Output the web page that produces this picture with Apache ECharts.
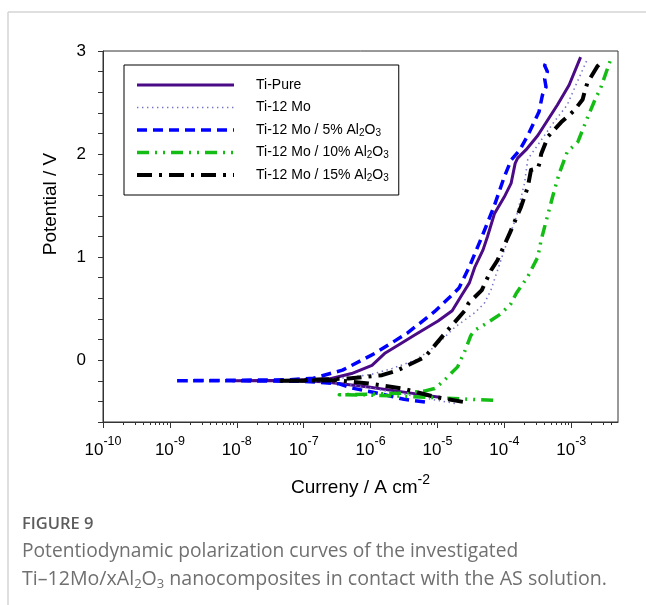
<!DOCTYPE html>
<html>
<head>
<meta charset="utf-8">
<script src="https://cdn.jsdelivr.net/npm/echarts@6/dist/echarts.min.js"></script>
<style>
html,body{margin:0;padding:0;background:#fff;}
#c{width:646px;height:605px;}
</style>
</head>
<body>
<div id="c"></div>
<script>
// ---------- data (current in A cm^-2, potential in V) ----------
const seriesNames = ['Ti-Pure', 'Ti-12 Mo', 'Ti-12 Mo / 5% Al2O3', 'Ti-12 Mo / 10% Al2O3', 'Ti-12 Mo / 15% Al2O3'];

const tiPureCurrent = [1.07e-5, 3.16e-6, 9.3e-7, 2.0e-7, 6.3e-8, 8.7e-9, 6.3e-8, 2.5e-7, 5.2e-7, 1.05e-6, 1.66e-6, 2.8e-6, 4.7e-6, 1.02e-5, 1.66e-5, 2.3e-5, 3.0e-5, 3.6e-5, 4.8e-5, 5.6e-5, 7.1e-5, 1.0e-4, 1.26e-4, 1.45e-4, 1.58e-4, 2.1e-4, 3.16e-4, 6.2e-4, 9.3e-4, 1.38e-3];
const tiPurePotential = [-0.36, -0.31, -0.26, -0.21, -0.2, -0.2, -0.195, -0.18, -0.13, -0.05, 0.07, 0.16, 0.25, 0.38, 0.48, 0.63, 0.75, 0.9, 1.07, 1.2, 1.42, 1.585, 1.715, 1.91, 1.96, 2.04, 2.18, 2.476, 2.67, 2.94];

const ti12MoCurrent = [1.82e-5, 1.0e-5, 3.16e-6, 1.0e-6, 3.16e-7, 1.0e-7, 4.0e-8, 1.0e-7, 3.16e-7, 1.0e-6, 2.1e-6, 4.7e-6, 9.1e-6, 1.82e-5, 3.6e-5, 5.0e-5, 6.3e-5, 1.0e-4, 1.51e-4, 2.0e-4, 2.24e-4, 5.5e-4, 8.7e-4, 1.23e-3, 1.74e-3];
const ti12MoPotential = [-0.42, -0.39, -0.33, -0.27, -0.22, -0.2, -0.2, -0.195, -0.18, -0.14, -0.08, 0.0, 0.13, 0.32, 0.46, 0.55, 0.68, 1.07, 1.39, 1.715, 1.95, 2.31, 2.476, 2.7, 2.92];

const al5Current = [6.5e-6, 3.16e-6, 1.48e-6, 5.2e-7, 3.4e-7, 1.0e-7, 1.0e-8, 1.17e-9, 1.0e-8, 6.3e-8, 1.4e-7, 3.8e-7, 1.15e-6, 3.5e-6, 9.0e-6, 1.55e-5, 2.1e-5, 3.0e-5, 4.4e-5, 7.0e-5, 1.0e-4, 1.26e-4, 1.7e-4, 2.24e-4, 3.3e-4, 3.7e-4, 4.2e-4, 4.0e-4, 4.4e-4, 4.0e-4, 4.3e-4];
const al5Potential = [-0.405, -0.38, -0.33, -0.27, -0.23, -0.205, -0.2, -0.2, -0.195, -0.19, -0.175, -0.097, 0.065, 0.26, 0.47, 0.615, 0.7, 0.906, 1.165, 1.49, 1.78, 1.94, 2.04, 2.18, 2.41, 2.57, 2.65, 2.73, 2.8, 2.86, 2.9];

const al10Current = [6.8e-5, 3.16e-5, 1.0e-5, 3.16e-6, 1.0e-6, 3.4e-7, 1.0e-6, 3.16e-6, 6.3e-6, 9.1e-6, 1.29e-5, 2.0e-5, 2.6e-5, 3.16e-5, 3.6e-5, 5.8e-5, 8.9e-5, 1.26e-4, 1.51e-4, 2.24e-4, 3.16e-4, 3.55e-4, 4.5e-4, 5.6e-4, 6.6e-4, 8.7e-4, 1.26e-3, 1.74e-3, 2.24e-3, 2.75e-3, 3.9e-3];
const al10Potential = [-0.39, -0.38, -0.365, -0.35, -0.34, -0.335, -0.33, -0.32, -0.3, -0.275, -0.19, -0.065, 0.097, 0.24, 0.29, 0.37, 0.45, 0.55, 0.65, 0.81, 1.0, 1.165, 1.42, 1.65, 1.81, 2.02, 2.12, 2.35, 2.52, 2.64, 2.92];

const al15Current = [2.4e-5, 9.1e-6, 3.0e-6, 9.3e-7, 3.0e-7, 1.0e-7, 4.1e-8, 1.0e-7, 2.5e-7, 4.7e-7, 1.48e-6, 2.5e-6, 6.5e-6, 1.29e-5, 2.6e-5, 2.9e-5, 4.6e-5, 6.3e-5, 7.9e-5, 1.2e-4, 1.78e-4, 2.24e-4, 2.5e-4, 3.16e-4, 3.4e-4, 3.55e-4, 4.5e-4, 7.1e-4, 1.1e-3, 1.48e-3, 1.58e-3, 1.74e-3, 2.45e-3, 2.9e-3];
const al15Potential = [-0.405, -0.356, -0.275, -0.226, -0.194, -0.2, -0.2, -0.195, -0.185, -0.178, -0.146, -0.1, 0.03, 0.26, 0.485, 0.55, 0.68, 0.87, 0.97, 1.23, 1.49, 1.68, 1.845, 1.86, 1.92, 2.0, 2.17, 2.31, 2.42, 2.53, 2.6, 2.69, 2.85, 2.9];

// axis ticks
const xMajorTicks = [1e-10, 1e-9, 1e-8, 1e-7, 1e-6, 1e-5, 1e-4, 1e-3];
const xMin = 1e-10, xMax = 5e-3;
const yLabelValues = [0, 1, 2, 3];
const yTickValues = [-0.6, -0.4, -0.2, 0, 0.2, 0.4, 0.6, 0.8, 1, 1.2, 1.4, 1.6, 1.8, 2, 2.2, 2.4, 2.6, 2.8, 3];
const yMin = -0.6, yMax = 3;

// ---------- build ----------
const xMinorTicks = [];
for (let d = -10; d <= -3; d++) {
  for (let m = 2; m <= 9; m++) {
    const v = m * Math.pow(10, d);
    if (v < xMax) xMinorTicks.push(v);
  }
}
function pairs(I, E) { return I.map((v, i) => [v, E[i]]); }

const FONT = 'Liberation Sans, Arial, sans-serif';
const CAP = 'Open Sans, sans-serif';
const styles = [
  { color: '#4b0a86', width: 3, type: 'solid' },
  { color: '#7474c8', width: 1.6, type: [1.4, 3.6] },
  { color: '#0000ff', width: 3.5, type: [10, 6] },
  { color: '#14bd14', width: 3.5, type: [12, 6, 2, 6, 2, 6] },
  { color: '#000000', width: 4, type: [15, 7, 3, 7] }
];
const dataSets = [
  pairs(tiPureCurrent, tiPurePotential),
  pairs(ti12MoCurrent, ti12MoPotential),
  pairs(al5Current, al5Potential),
  pairs(al10Current, al10Potential),
  pairs(al15Current, al15Potential)
];

const chart = echarts.init(document.getElementById('c'), null, { renderer: 'canvas' });
const sub = (s) => s.replace('Al2O3', 'Al{sub|2}O{sub|3}');

chart.setOption({
  animation: false,
  backgroundColor: '#fff',
  grid: { left: 103, right: 28, top: 51, bottom: 183, show: true, borderColor: '#333', borderWidth: 1, backgroundColor: 'transparent' },
  legend: {
    orient: 'vertical', left: 124, top: 65,
    padding: [12, 10, 12, 11],
    itemWidth: 97, itemHeight: 14, itemGap: 6.5,
    borderColor: '#000', borderWidth: 1,
    itemStyle: { opacity: 0 },
    data: seriesNames.map((n, i) => ({
      name: n,
      itemStyle: { opacity: 0 },
      lineStyle: { color: styles[i].color, width: styles[i].width, type: styles[i].type }
    })),
    formatter: (n) => sub(n),
    textStyle: {
      fontFamily: FONT, fontSize: 14, color: '#000', padding: [0, 0, 0, 17], lineHeight: 16,
      rich: { sub: { fontFamily: FONT, fontSize: 10, verticalAlign: 'bottom', lineHeight: 7 } }
    }
  },
  xAxis: [{
    type: 'log', logBase: 10, min: xMin, max: xMax,
    name: 'Curreny / A cm{sup|-2}', nameLocation: 'middle', nameGap: 51,
    nameTextStyle: {
      fontFamily: FONT, fontSize: 19, color: '#000', lineHeight: 30,
      rich: { sup: { fontFamily: FONT, fontSize: 14, lineHeight: 14, verticalAlign: 'top' } }
    },
    axisLine: { show: true, onZero: false, lineStyle: { color: '#333', width: 1 } },
    axisTick: { show: true, length: 6, customValues: xMajorTicks, lineStyle: { color: '#333' } },
    axisLabel: {
      customValues: xMajorTicks, margin: 13, color: '#000',
      formatter: (v) => '{b|10}{sup|' + Math.round(Math.log10(v)) + '}',
      rich: {
        b: { fontFamily: FONT, fontSize: 17, lineHeight: 30, color: '#000' },
        sup: { fontFamily: FONT, fontSize: 12.5, lineHeight: 14, verticalAlign: 'top', color: '#000' }
      }
    },
    splitLine: { show: false }
  }, {
    type: 'log', logBase: 10, min: xMin, max: xMax, position: 'bottom', offset: 0,
    axisLine: { show: false, onZero: false },
    axisTick: { show: true, length: 3, customValues: xMinorTicks, lineStyle: { color: '#333' } },
    axisLabel: { show: false },
    splitLine: { show: false }
  }],
  yAxis: {
    type: 'value', min: yMin, max: yMax,
    name: 'Potential / V', nameLocation: 'middle', nameGap: 43,
    nameTextStyle: { fontFamily: FONT, fontSize: 19, color: '#000', padding: [0, 0, 0, 65] },
    axisLine: { show: true, onZero: false, lineStyle: { color: '#333', width: 1 } },
    axisTick: { show: true, length: 5, customValues: yTickValues, lineStyle: { color: '#333' } },
    axisLabel: { customValues: yLabelValues, margin: 17, fontFamily: FONT, fontSize: 17, color: '#000' },
    splitLine: { show: false }
  },
  series: dataSets.map((d, i) => ({
    name: seriesNames[i], type: 'line', data: d, xAxisIndex: 0,
    symbol: 'none', smooth: false,
    lineStyle: { color: styles[i].color, width: styles[i].width, type: styles[i].type, cap: 'butt', join: 'round' },
    itemStyle: { color: styles[i].color }
  })),
  graphic: [
    { type: 'line', shape: { x1: 8, y1: 12, x2: 646, y2: 12 }, style: { stroke: '#d4d4d4', lineWidth: 1.5 } },
    { type: 'line', shape: { x1: 8, y1: 12, x2: 8, y2: 605 }, style: { stroke: '#d4d4d4', lineWidth: 1.5 } },
    { type: 'text', left: 22, top: 516, style: { text: 'FIGURE 9', fontFamily: CAP, fontSize: 16.5, fontWeight: 600, fill: '#5c5c5c' } },
    { type: 'text', left: 22, top: 542, style: { text: 'Potentiodynamic polarization curves of the investigated', fontFamily: CAP, fontSize: 19.2, fill: '#707070' } },
    { type: 'text', left: 22, top: 567, style: {
        text: 'Ti–12Mo/xAl{s|2}O{s|3} nanocomposites in contact with the AS solution.',
        fontFamily: CAP, fontSize: 19.6, fill: '#707070', lineHeight: 24,
        rich: { s: { fontFamily: CAP, fontSize: 13, fill: '#707070', verticalAlign: 'bottom', lineHeight: 10 } }
    } }
  ]
});
</script>
</body>
</html>
